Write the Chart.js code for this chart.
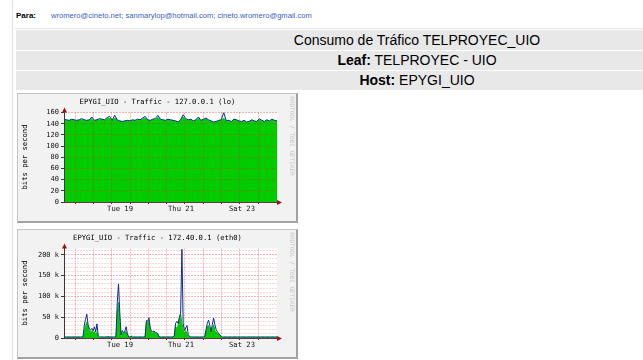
<!DOCTYPE html>
<html>
<head>
<meta charset="utf-8">
<script src="https://cdn.jsdelivr.net/npm/chart.js@4/dist/chart.umd.min.js"></script>
<style>
  html, body { margin: 0; padding: 0; background: #fff; }
  body { position: relative; width: 643px; height: 360px; overflow: hidden; font-family: "Liberation Sans", Arial, sans-serif; }
  .abs { position: absolute; }
  #para { left: 16px; top: 11px; font-size: 8px; font-weight: bold; color: #000; line-height: 10px; }
  #to { left: 51px; top: 11px; font-size: 7.6px; color: #3a60c4; line-height: 10px; white-space: nowrap; }
  .rule-v { left: 12px; top: 0; width: 1px; height: 360px; background: #e2e2e2; }
  .rule-h { left: 15px; top: 28px; width: 628px; height: 1px; background: #e2e2e2; }
  .row { position: absolute; left: 16px; width: 802px; background: #e8e8e8; text-align: center; font-size: 14px; color: #000; white-space: nowrap; }
  .box { position: absolute; left: 17px; width: 281px; height: 130px; box-sizing: border-box; background: #f2f2f2;
         border-top: 1px solid #c4c4c4; border-left: 1px solid #c4c4c4; border-right: 2px solid #a2a2a2; border-bottom: 2px solid #a2a2a2; }
  canvas { position: absolute; }
</style>
</head>
<body>
<div class="abs rule-v"></div>
<div class="abs" id="para">Para:</div>
<div class="abs" id="to">wromero@cineto.net; sanmarylop@hotmail.com; cineto.wromero@gmail.com</div>
<div class="abs rule-h"></div>

<div class="row" style="top:30px;height:20px;line-height:20px;">Consumo de Tráfico TELPROYEC_UIO</div>
<div class="row" style="top:51px;height:19px;line-height:19px;"><b>Leaf:</b> TELPROYEC - UIO</div>
<div class="row" style="top:71px;height:19px;line-height:19px;"><b>Host:</b> EPYGI_UIO</div>

<div class="box" style="top:93px;"></div>
<canvas id="lo" width="281" height="130" style="left:17px;top:93px;width:281px;height:130px;"></canvas>
<div class="box" style="top:229px;"></div>
<canvas id="eth0" width="281" height="130" style="left:17px;top:229px;width:281px;height:130px;"></canvas>

<script>
// ---- time axis: hours since Sun 17 04:00, one week ----
const dayLabels = ['Tue 19', 'Thu 21', 'Sat 23'];
const dayLabelHours = [44.2, 92.3, 140.4];
const gridHours = [8.7, 23.1, 37.6, 52.1, 66.5, 81.0, 95.4, 109.9, 124.4, 138.8, 153.2];

// ---- lo (127.0.0.1), bits per second, 2-hour samples ----
const loIn = [
  147,146,145,147,146,145,146,147,146,145,
  146,149,145,146,147,147,146,149,150,145,
  150,146,144,143,144,145,144,146,145,146,
  146,148,150,146,145,147,147,151,147,146,
  145,147,146,145,144,142,146,152,147,146,
  147,144,146,149,145,147,148,146,144,142,
  143,145,146,150,144,145,143,147,146,144,
  143,145,142,143,146,144,143,147,145,143,
  146,144,147,145,144
];
const loOut = [
  148,147,146,148,147,146,147,149,147,146,
  147,152,146,147,149,148,147,151,153,146,
  155,147,145,144,145,146,145,147,146,148,
  147,150,153,147,146,148,149,155,148,147,
  146,148,147,146,145,143,147,156,149,147,
  148,145,147,152,146,148,150,147,145,143,
  144,146,147,160,145,146,144,148,147,145,
  144,146,143,144,147,145,144,149,146,144,
  147,145,148,146,145
];

// ---- eth0 (172.40.0.1), kbit/s, hourly samples ----
const ethIn = [
  // Sun 04h .. Mon 03h
  1.5,1.5,1.5,1.5,1.5,1.5,1.5,1.5,1.5,1.5,1.5,1.5,1.5,1.5,1.5,1.5, 15,30,38,28,18,16,17,14,
  // Mon 04h .. Tue 03h
  15,12,13,3, 1.5,1.5,1.5,1.5,1.5,1.5,1.5, 3, 1.5,1.5,1.5,1.5,1.5, 2,60,85,40,5,12,10,
  // Tue 04h .. Wed 03h
  14,15,8,1.5,1.5,4, 1.5,1.5,1.5,1.5,1.5,1.5,1.5,1.5,1.5,1.5, 2,38,36,43,20,13,12,15,
  // Wed 04h .. Thu 03h
  11,12,8,2, 1.5,1.5,1.5,1.5,1.5,1.5,1.5,1.5,1.5,1.5,1.5, 3,28,22,30,45,57,35,20,12,
  // Thu 04h .. Fri 03h
  18,10,5,2, 1.5,1.5,1.5,1.5,1.5,1.5,1.5,1.5,1.5,1.5,1.5, 2,15,28,30,22,12,25,32,18,
  // Fri 04h .. Sat 03h
  14,12,8,6,2, 1.5,1.5,1.5,1.5,1.5,1.5,1.5,1.5,1.5,1.5,1.5,1.5,1.5,1.5,1.5,1.5,1.5,1.5,1.5,
  // Sat 04h .. Sun 04h
  1.5,1.5,1.5,1.5,1.5,1.5,1.5,1.5,1.5,1.5,1.5,1.5,1.5,1.5,1.5,1.5,1.5,1.5,1.5,1.5,1.5,1.5,1.5,1.5,1.5
];
const ethOut = [
  2.5,2.5,2.5,2.5,2.5,2.5,2.5,2.5,2.5,2.5,2.5,2.5,2.5,2.5,2.5,2.5, 30,45,57,32,22,19,23,17,
  27,15,34,5, 2.5,2.5,2.5,2.5,2.5,2.5,2.5, 3.5, 2.5,2.5,2.5,2.5,2.5, 3,85,130,60,8,18,12,
  16,27,10,2.5,2.5,4.5, 2.5,2.5,2.5,2.5,2.5,2.5,2.5,2.5,2.5,2.5, 3,42,40,49,25,16,15,17,
  14,13,10,3, 2.5,2.5,2.5,2.5,2.5,2.5,2.5,2.5,2.5,2.5,2.5, 5,35,40,35,50,60,213,35,18,
  24,30,8,3, 2.5,2.5,2.5,2.5,2.5,2.5,2.5,2.5,2.5,2.5,2.5, 3,20,35,43,30,15,32,48,32,
  20,15,10,8,3, 2.5,2.5,2.5,2.5,2.5,2.5,2.5,2.5,2.5,2.5,2.5,2.5,2.5,2.5,2.5,2.5,2.5,2.5,2.5,
  2.5,2.5,2.5,2.5,2.5,2.5,2.5,2.5,2.5,2.5,2.5,2.5,2.5,2.5,2.5,2.5,2.5,2.5,2.5,2.5,2.5,2.5,2.5,2.5,2.5
];

const GREEN = '#00cc00';
const BLUE = '#002a97';
const AXIS = '#3a3a3a';
const ARROW = '#a01010';
const GRID_MAJOR = 'rgba(222,48,47,0.34)';
const GRID_MINOR = 'rgba(222,48,47,0.18)';
const MONO = '"DejaVu Sans Mono", monospace';
const CAPTION_SIZE = 7.2;
const TICK_SIZE = 7;

const dayLabelAt = new Map(dayLabelHours.map((h, i) => [h, dayLabels[i]]));
const xTicks = [...gridHours, ...dayLabelHours].sort((a, b) => a - b);

// frame, title, axis caption, watermark and axis arrows of an rrdtool style graph
const rrdFrame = {
  id: 'rrdFrame',
  beforeDraw(chart) {
    const { ctx, chartArea: a } = chart;
    ctx.save();
    ctx.fillStyle = '#ffffff';
    ctx.fillRect(a.left, a.top, a.right - a.left, a.bottom - a.top);
    ctx.restore();
  },
  afterDraw(chart, args, o) {
    const { ctx, chartArea: a } = chart;
    ctx.save();
    ctx.fillStyle = '#000';
    ctx.font = CAPTION_SIZE + 'px ' + MONO;
    ctx.textAlign = 'center';
    ctx.textBaseline = 'middle';
    ctx.fillText(o.title, 140.5, 9.5);

    ctx.save();
    ctx.translate(8, 64);
    ctx.rotate(-Math.PI / 2);
    ctx.fillText(o.yLabel, 0, 0);
    ctx.restore();

    ctx.save();
    ctx.translate(275, 43);
    ctx.rotate(Math.PI / 2);
    ctx.fillStyle = '#c6c6c6';
    ctx.font = '6px ' + MONO;
    ctx.fillText('RRDTOOL / TOBI OETIKER', 0, 0);
    ctx.restore();

    // axis arrows
    const x0 = Math.round(a.left) + 0.5;
    const y0 = Math.round(a.bottom) + 0.5;
    ctx.strokeStyle = AXIS;
    ctx.lineWidth = 1;
    ctx.beginPath();
    ctx.moveTo(x0, a.top); ctx.lineTo(x0, a.top - 2);
    ctx.moveTo(a.right, y0); ctx.lineTo(a.right + 2, y0);
    ctx.stroke();
    ctx.fillStyle = ARROW;
    ctx.beginPath();
    ctx.moveTo(x0, a.top - 5); ctx.lineTo(x0 - 2.5, a.top); ctx.lineTo(x0 + 2.5, a.top);
    ctx.closePath(); ctx.fill();
    ctx.beginPath();
    ctx.moveTo(a.right + 5, y0); ctx.lineTo(a.right, y0 - 2.5); ctx.lineTo(a.right, y0 + 2.5);
    ctx.closePath(); ctx.fill();
    ctx.restore();
  }
};

function rrdGraph(id, cfg) {
  const pts = (arr) => arr.map((v, i) => ({ x: cfg.hours[i], y: v }));
  return new Chart(document.getElementById(id), {
    type: 'line',
    data: {
      datasets: [
        { label: 'out', data: pts(cfg.out), borderColor: BLUE, borderWidth: 1, pointRadius: 0, fill: false, tension: 0, order: 0 },
        { label: 'in', data: pts(cfg.in), borderColor: GREEN, borderWidth: 1, backgroundColor: GREEN, pointRadius: 0, fill: 'origin', tension: 0, order: 1 }
      ]
    },
    options: {
      responsive: false,
      devicePixelRatio: 1,
      animation: false,
      events: [],
      layout: { padding: { top: 19.5, right: 21, left: 0, bottom: 0 } },
      plugins: {
        legend: { display: false },
        tooltip: { enabled: false },
        rrdFrame: { title: cfg.title, yLabel: 'bits per second' }
      },
      scales: {
        x: {
          type: 'linear', min: 0, max: 168,
          afterBuildTicks: (s) => { s.ticks = xTicks.map(v => ({ value: v })); },
          afterFit: (s) => { s.height = 21; },
          grid: {
            z: 1, lineWidth: 1, tickLength: 2,
            color: (c) => dayLabelAt.has(c.tick && c.tick.value) ? 'rgba(0,0,0,0)' : GRID_MAJOR,
            tickColor: (c) => dayLabelAt.has(c.tick && c.tick.value) ? 'rgba(0,0,0,0)' : AXIS
          },
          border: { z: 1, color: AXIS, width: 1, dash: [2, 1] },
          ticks: {
            autoSkip: false, maxRotation: 0, minRotation: 0, padding: 1,
            font: { family: MONO, size: CAPTION_SIZE }, color: '#111',
            callback: (v) => dayLabelAt.get(v) || ''
          }
        },
        y: {
          min: 0, max: cfg.yMax,
          afterBuildTicks: (s) => { s.ticks = cfg.yTicks.map(v => ({ value: v })); },
          afterFit: (s) => { s.width = 47; },
          grid: {
            z: 1, lineWidth: 1, tickLength: 3,
            color: (c) => cfg.isMajor(c.tick ? c.tick.value : 0) ? GRID_MAJOR : GRID_MINOR,
            tickColor: (c) => cfg.isMajor(c.tick ? c.tick.value : 0) ? AXIS : 'rgba(0,0,0,0)'
          },
          border: { z: 1, color: AXIS, width: 1, dash: [2, 1] },
          ticks: {
            autoSkip: false, padding: 2,
            font: { family: MONO, size: TICK_SIZE }, color: '#111',
            callback: cfg.yFormat
          }
        }
      }
    },
    plugins: [rrdFrame]
  });
}

const loHours = loIn.map((_, i) => i * 2);
const ethHours = ethIn.map((_, i) => i);

rrdGraph('lo', {
  title: 'EPYGI_UIO - Traffic - 127.0.0.1 (lo)',
  hours: loHours, in: loIn, out: loOut,
  yMax: 160,
  yTicks: [0, 20, 40, 60, 80, 100, 120, 140, 160],
  isMajor: () => true,
  yFormat: (v) => String(v)
});

const ethTicks = [];
for (let v = 0; v <= 210; v += 10) ethTicks.push(v);
rrdGraph('eth0', {
  title: 'EPYGI_UIO - Traffic - 172.40.0.1 (eth0)',
  hours: ethHours, in: ethIn, out: ethOut,
  yMax: 215,
  yTicks: ethTicks,
  isMajor: (v) => v % 50 === 0,
  yFormat: (v) => v % 50 !== 0 ? '' : (v === 0 ? '0' : v + ' k')
});
</script>
</body>
</html>
